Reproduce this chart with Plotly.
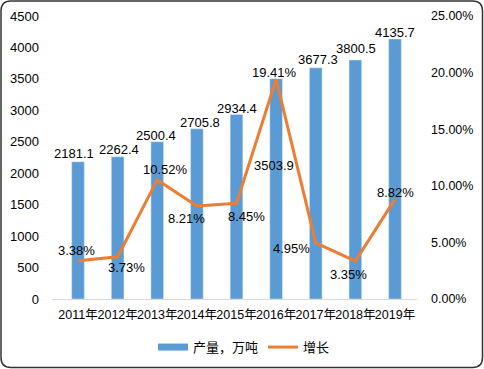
import plotly.graph_objects as go

years = ["2011年", "2012年", "2013年", "2014年", "2015年", "2016年", "2017年", "2018年", "2019年"]
output = [2181.1, 2262.4, 2500.4, 2705.8, 2934.4, 3503.9, 3677.3, 3800.5, 4135.7]
growth = [0.0338, 0.0373, 0.1052, 0.0821, 0.0845, 0.1941, 0.0495, 0.0335, 0.0882]
output_labels = ["2181.1", "2262.4", "2500.4", "2705.8", "2934.4", "3503.9", "3677.3", "3800.5", "4135.7"]
growth_labels = ["3.38%", "3.73%", "10.52%", "8.21%", "8.45%", "19.41%", "4.95%", "3.35%", "8.82%"]

# label offsets (pixels) – styling only
bar_dx = [-4, 1, -1, 3, 0, -2, 2, 1, 0]
bar_dy = [8, 7, 6, 6, 6, -87, 8, 11, 6]
line_dx = [-2, 9, 8, -10, 10, -2, -24, -7, 0]
line_dy = [10, -11, 10, -12, -13, 7, -6, -13, 7]

BLUE = "#5B9BD5"
ORANGE = "#ED7D31"
FONT = "Liberation Sans, Noto Sans CJK SC, sans-serif"

W, H = 484, 369
L, R, T, B = 52, 67, 16, 70
PW, PH = W - L - R, H - T - B

fig = go.Figure()
fig.add_trace(go.Bar(x=years, y=output, name="产量，万吨", marker_color=BLUE,
                     width=0.32, showlegend=False))
fig.add_trace(go.Scatter(x=[None], y=[None], mode="lines", name="产量，万吨",
                         line=dict(color=BLUE, width=7)))
fig.add_trace(go.Scatter(x=years, y=growth, name="增长", mode="lines", yaxis="y2",
                         line=dict(color=ORANGE, width=3)))

ann = []
for i, yr in enumerate(years):
    ann.append(dict(x=yr, y=output[i], xref="x", yref="y", text=output_labels[i],
                    showarrow=False, xshift=bar_dx[i], yshift=bar_dy[i],
                    yanchor="middle", font=dict(size=13, color="#000", family=FONT)))
    ann.append(dict(x=yr, y=growth[i], xref="x", yref="y2", text=growth_labels[i],
                    showarrow=False, xshift=line_dx[i], yshift=line_dy[i],
                    yanchor="middle", font=dict(size=13, color="#000", family=FONT)))

def px2paper(px, py):
    return (px - L) / PW, (H - B - py) / PH

x0, y0, x1, y1, r = 1, 1, 482.5, 367.5, 10
pts = [
    ("M", [(x0 + r, y0)]), ("L", [(x1 - r, y0)]), ("Q", [(x1, y0), (x1, y0 + r)]),
    ("L", [(x1, y1 - r)]), ("Q", [(x1, y1), (x1 - r, y1)]),
    ("L", [(x0 + r, y1)]), ("Q", [(x0, y1), (x0, y1 - r)]),
    ("L", [(x0, y0 + r)]), ("Q", [(x0, y0), (x0 + r, y0)]),
]
path = ""
for cmd, ps in pts:
    path += cmd + " " + " ".join("%.5f,%.5f" % px2paper(*p) for p in ps) + " "
path += "Z"

fig.update_layout(
    width=W, height=H,
    margin=dict(l=L, r=R, t=T, b=B, autoexpand=False),
    paper_bgcolor="white", plot_bgcolor="white",
    font=dict(family=FONT, size=13, color="#000"),
    bargap=0.68,
    xaxis=dict(showgrid=False, showline=True, linecolor="#D9D9D9", linewidth=1,
               tickangle=0, tickfont=dict(size=12.5), ticks="", automargin=False,
               ticklabelstandoff=4),
    yaxis=dict(range=[0, 4500], dtick=500, showgrid=False, zeroline=False,
               showline=False, tickfont=dict(size=13), ticklabelstandoff=12,
               automargin=False),
    yaxis2=dict(range=[0, 0.25], dtick=0.05, tickformat=".2%", overlaying="y",
                side="right", showgrid=False, zeroline=False, showline=False,
                tickfont=dict(size=12.5), ticklabelstandoff=13, automargin=False),
    legend=dict(orientation="h", x=0.526, xanchor="center", y=-0.17, yanchor="middle",
                font=dict(size=13), traceorder="normal", itemwidth=30),
    annotations=ann,
    shapes=[dict(type="path", path=path, xref="paper", yref="paper",
                 line=dict(color="#333333", width=1.5))],
)

fig.write_html("out.html", config={"displayModeBar": False},
               post_script="document.body.style.margin='0';document.body.style.padding='0';")
